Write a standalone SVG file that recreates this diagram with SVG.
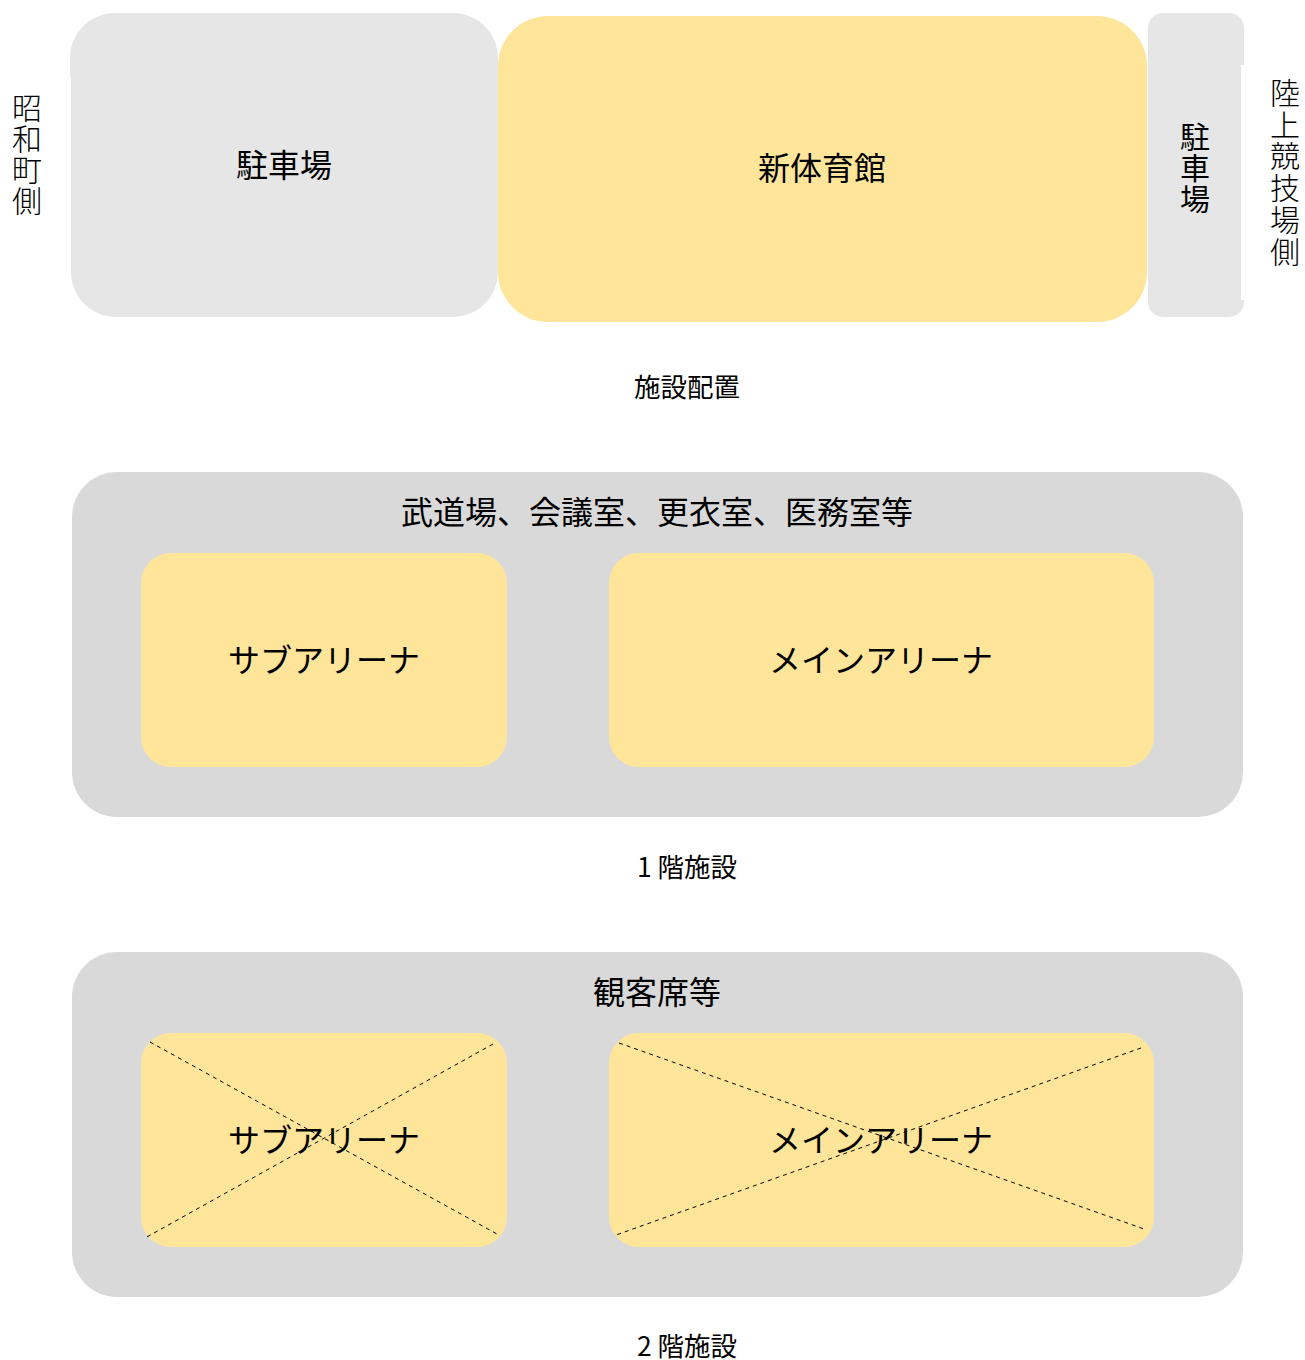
<svg xmlns="http://www.w3.org/2000/svg" width="1305" height="1360" viewBox="0 0 1305 1360">
<style>
  text { font-family: "Noto Sans CJK JP", "Liberation Sans", sans-serif; fill: #000; text-anchor: middle; dominant-baseline: central; }
  .lbl { font-size: 32px; }
  .side { font-size: 30px; font-weight: 300; }
  .cap { font-size: 26.5px; }
  .park { fill: #e6e6e6; }
  .yel { fill: #ffe599; }
  .panel { fill: #d9d9d9; }
  .x { stroke: #000; stroke-width: 1; stroke-dasharray: 4 4; fill: none; }
</style>
<rect width="1305" height="1360" fill="#fff"/>

<g id="parking-left">
  <path class="park" d="M115,13 H453 A45,45 0 0 1 498,58 V272 A45,45 0 0 1 453,317 H116 A45,45 0 0 1 71,272 V77 H70 V58 A45,45 0 0 1 115,13 Z"/>
  <text class="lbl" x="284" y="163">駐車場</text>
</g>
<g id="new-gym">
  <rect class="yel" x="498" y="16" width="649" height="306" rx="50"/>
  <text class="lbl" x="822" y="166">新体育館</text>
</g>
<g id="parking-right">
  <path class="park" d="M1163,13 H1229 A15,15 0 0 1 1244,28 V65 H1241 V300 H1244 V302 A15,15 0 0 1 1229,317 H1163 A15,15 0 0 1 1148,302 V28 A15,15 0 0 1 1163,13 Z"/>
  <text class="side" style="font-weight:400"><tspan x="1195" y="135">駐</tspan><tspan x="1195" y="166">車</tspan><tspan x="1195" y="197">場</tspan></text>
</g>
<g id="side-left">
  <text class="side"><tspan x="27" y="106">昭</tspan><tspan x="27" y="137">和</tspan><tspan x="27" y="168">町</tspan><tspan x="27" y="199">側</tspan></text>
</g>
<g id="side-right">
  <text class="side"><tspan x="1285" y="91">陸</tspan><tspan x="1285" y="123">上</tspan><tspan x="1285" y="154">競</tspan><tspan x="1285" y="186">技</tspan><tspan x="1285" y="218">場</tspan><tspan x="1285" y="250">側</tspan></text>
</g>
<g id="caption-layout"><text class="cap" x="687" y="385">施設配置</text></g>

<g id="floor1">
  <rect class="panel" x="72" y="472" width="1171" height="345" rx="45"/>
  <text class="lbl" x="657" y="510">武道場、会議室、更衣室、医務室等</text>
</g>
<g id="f1-sub">
  <rect class="yel" x="141" y="553" width="366" height="214" rx="30"/>
  <text class="lbl" x="324" y="658">サブアリーナ</text>
</g>
<g id="f1-main">
  <rect class="yel" x="609" y="553" width="545" height="214" rx="30"/>
  <text class="lbl" x="881" y="658">メインアリーナ</text>
</g>
<g id="caption-f1"><text class="cap" x="687" y="865">1 階施設</text></g>

<g id="floor2">
  <rect class="panel" x="72" y="952" width="1171" height="345" rx="45"/>
  <text class="lbl" x="657" y="990">観客席等</text>
</g>
<g id="f2-sub">
  <rect class="yel" x="141" y="1033" width="366" height="214" rx="30"/>
  <text class="lbl" x="324" y="1138">サブアリーナ</text>
</g>
<g id="f2-main">
  <rect class="yel" x="609" y="1033" width="545" height="214" rx="30"/>
  <text class="lbl" x="881" y="1138">メインアリーナ</text>
</g>
<g id="caption-f2"><text class="cap" x="687" y="1344">2 階施設</text></g>

<g id="connectors">
  <line class="x" x1="150" y1="1042" x2="497" y2="1234"/>
  <line class="x" x1="493" y1="1044" x2="145" y2="1238"/>
  <line class="x" x1="619" y1="1043" x2="1144" y2="1229"/>
  <line class="x" x1="1141" y1="1048" x2="616" y2="1235"/>
</g>
</svg>
